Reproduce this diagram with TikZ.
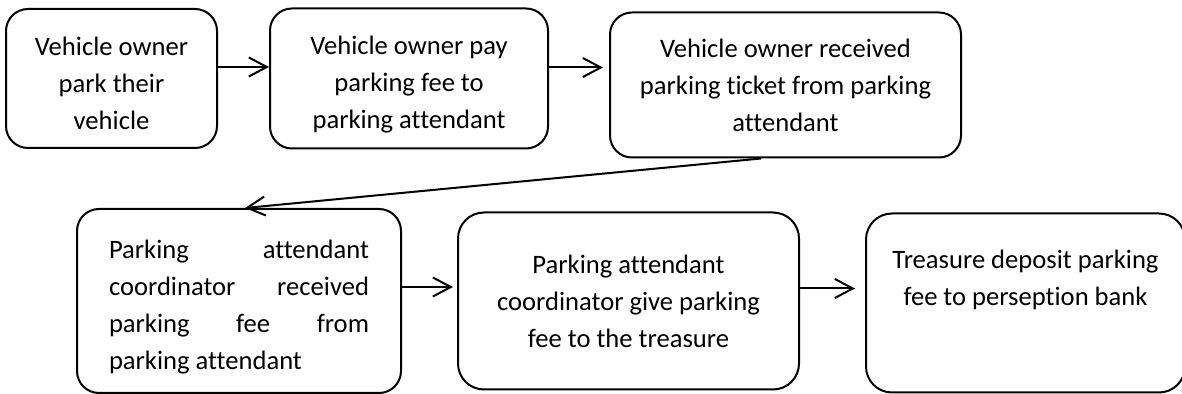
\documentclass[tikz,border=0pt]{standalone}
\usepackage{fontspec}
\setmainfont{Carlito}[Ligatures=NoCommon]
\usepackage{tikz}
\usetikzlibrary{positioning,arrows.meta}

\begin{document}
\begin{tikzpicture}[
node distance=25pt, line width=1pt,
roundedbox/.style={rectangle, draw, rounded corners=11pt, align=center, inner sep=2pt},
flow/.style={-{Straight Barb[length=9pt,width=9.5pt]}}]
\tikzstyle{every node}=[font={\fontsize{13.3pt}{18.5pt}\selectfont}]
\useasboundingbox (0,0) rectangle (591pt,-197pt);
% first row
\node[roundedbox, minimum width=105.5pt, minimum height=69.5pt, text height=51.5pt] (1) at (55.75pt,-39.25pt) {Vehicle owner\\park their\\vehicle};
\node[roundedbox, minimum width=139pt, minimum height=70pt, text height=52.5pt] (2) [right=25.5pt of 1] {Vehicle owner pay\\parking fee to\\parking attendant};
\node[roundedbox, minimum width=175.5pt, minimum height=72.5pt] (3) [right=30pt of 2, yshift=-3.25pt] {Vehicle owner received\\parking ticket from parking\\attendant};
% second row
\node[roundedbox, minimum width=162pt, minimum height=92pt, text width=130pt, align=justify, text height=15pt] (4) at (119.5pt,-150.5pt) {Parking attendant\linebreak coordinator received\linebreak parking fee from\linebreak parking attendant};
\node[roundedbox, minimum width=170.5pt, minimum height=88.5pt, rounded corners=13pt] (5) [right=27.5pt of 4] {Parking attendant\\coordinator give parking\\fee to the treasure};
\node[roundedbox, minimum width=159.5pt, minimum height=89.5pt, rounded corners=13pt, text depth=25pt] (6) [right=32.5pt of 5, yshift=-1pt] {Treasure deposit parking\\fee to perseption bank};

\draw[flow] ([yshift=5.75pt]1.east) -- ([yshift=5.75pt]1.east -| 2.west);
\draw[flow, shorten >=3pt] ([yshift=5.5pt]2.east) -- ([yshift=5.5pt]2.east -| 3.west);
\draw[flow] ([xshift=-12.25pt]3.south) -- ([xshift=3pt]4.north);
\draw[flow, shorten >=2pt] ([yshift=7pt]4.east) -- ([yshift=7pt]4.east -| 5.west);
\draw[flow, shorten >=5pt] ([yshift=6.25pt]5.east) -- ([yshift=6.25pt]5.east -| 6.west);
\end{tikzpicture}
\end{document}
